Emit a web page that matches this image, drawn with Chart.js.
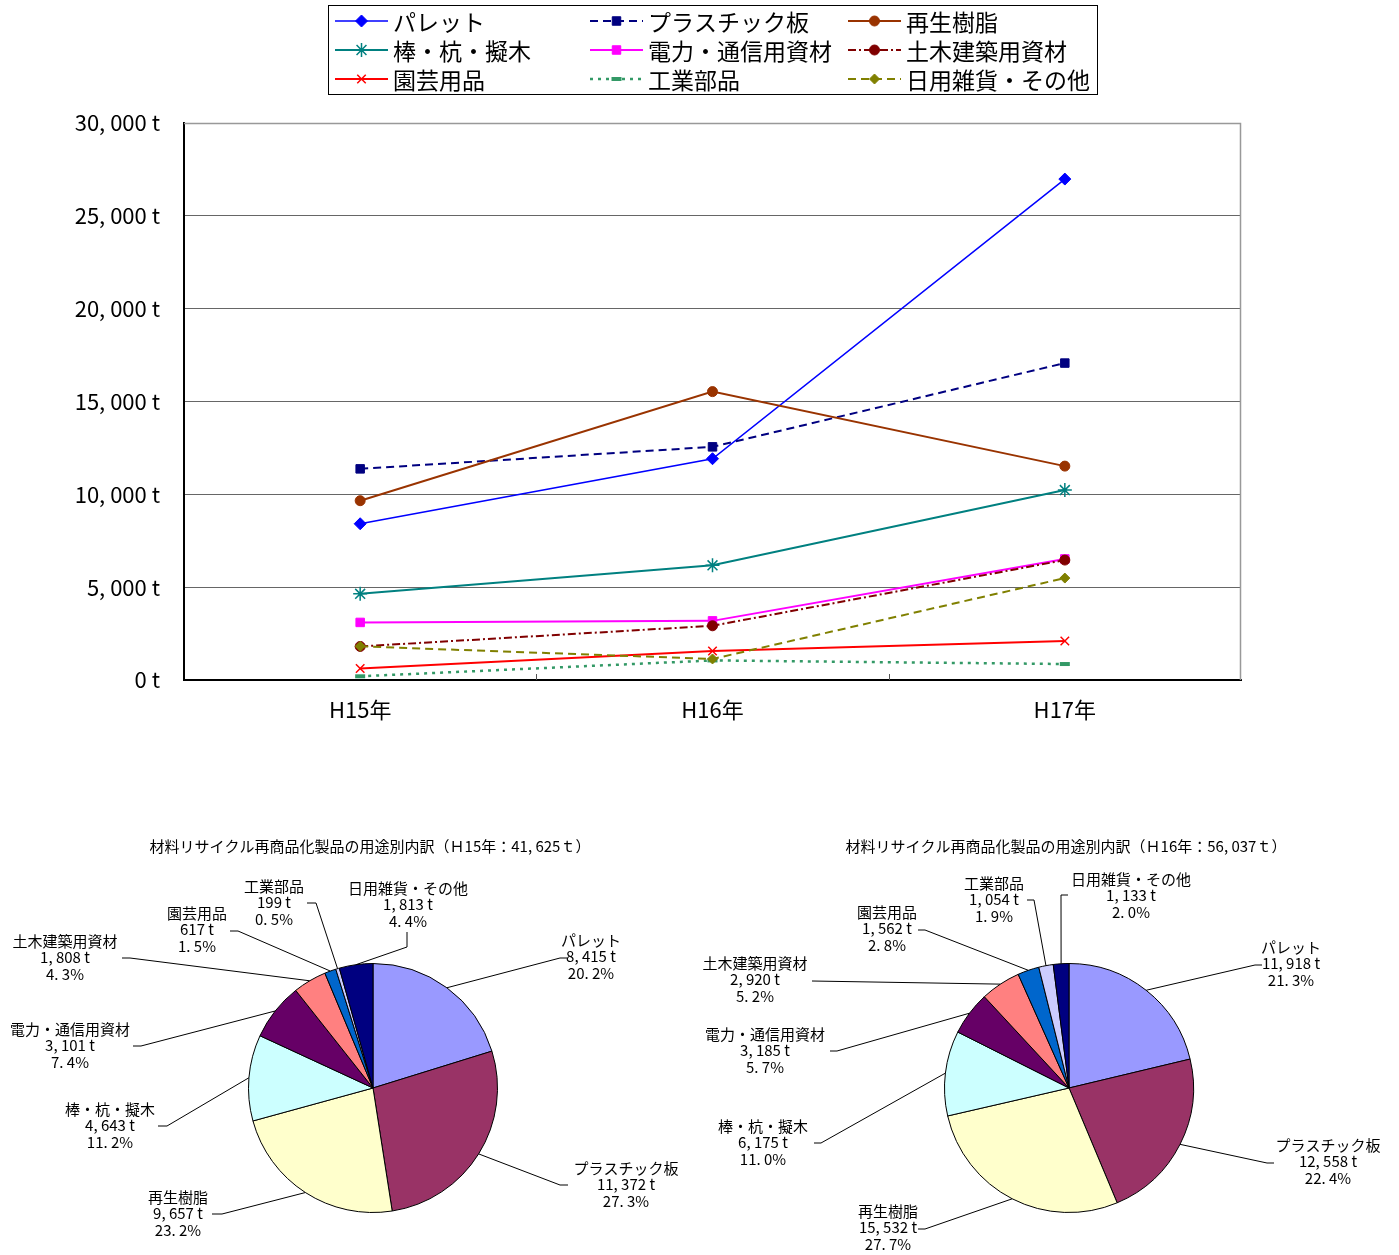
<!DOCTYPE html>
<html lang="ja">
<head>
<meta charset="utf-8">
<title>材料リサイクル再商品化製品の用途別推移</title>
<script src="https://cdn.jsdelivr.net/npm/chart.js@4.4.1/dist/chart.umd.min.js"></script>
<style>
html, body { margin: 0; padding: 0; background: #fff; }
#wrap { position: relative; width: 1399px; height: 1255px; overflow: hidden; background: #fff; }
canvas { position: absolute; }
#lineChart { left: 0; top: 0; }
#pie15 { left: 0; top: 830px; }
#pie16 { left: 699px; top: 830px; }
</style>
</head>
<body>
<div id="wrap">
  <canvas id="lineChart" width="1399" height="760"></canvas>
  <canvas id="pie15" width="700" height="425"></canvas>
  <canvas id="pie16" width="700" height="425"></canvas>
</div>
<script>
// ---- data (tonnes) ----
const years = ['H15年', 'H16年', 'H17年'];
const usageNames = ['パレット', 'プラスチック板', '再生樹脂', '棒・杭・擬木', '電力・通信用資材',
                    '土木建築用資材', '園芸用品', '工業部品', '日用雑貨・その他'];
const pallet        = [8415, 11918, 26980];
const plasticBoard  = [11372, 12558, 17070];
const recycledResin = [9657, 15532, 11520];
const stakes        = [4643, 6175, 10230];
const powerComm     = [3101, 3185, 6520];
const civilBuilding = [1808, 2920, 6460];
const gardening     = [617, 1562, 2100];
const industrial    = [199, 1054, 860];
const household     = [1813, 1133, 5490];
const yMin = 0, yMax = 30000, yStep = 5000;

const seriesValues = [pallet, plasticBoard, recycledResin, stakes, powerComm,
                      civilBuilding, gardening, industrial, household];

// ---- styles ----
const FONT = '"Noto Sans CJK JP", "Noto Sans", sans-serif';
const lineStyles = [
  { color: '#0000FF', dash: [],           width: 1.5, point: 'rectRot',  r: 6, pw: 1 },
  { color: '#000080', dash: [8, 5],       width: 2,   point: 'rect',     r: 6, pw: 1 },
  { color: '#993300', dash: [],           width: 2,   point: 'circle',   r: 5, pw: 1 },
  { color: '#008080', dash: [],           width: 2,   point: 'star',     r: 7, pw: 1.5 },
  { color: '#FF00FF', dash: [],           width: 2,   point: 'rect',     r: 6, pw: 1 },
  { color: '#800000', dash: [8, 3, 2, 3], width: 2,   point: 'circle',   r: 5, pw: 1 },
  { color: '#FF0000', dash: [],           width: 2,   point: 'crossRot', r: 6, pw: 1.5 },
  { color: '#339966', dash: [3, 5],       width: 2.5, point: 'line',     r: 5, pw: 4 },
  { color: '#808000', dash: [8, 5],       width: 2,   point: 'rectRot',  r: 5, pw: 1 }
];
const sliceColors = ['#9999FF', '#993366', '#FFFFCC', '#CCFFFF', '#660066',
                     '#FF8080', '#0066CC', '#CCCCFF', '#000080'];

function fmtTon(v) { return v.toLocaleString('en-US').replace(/,/g, ', ') + ' t'; }
function fmtPct(v) { return v.toFixed(1).replace('.', '. ') + '%'; }

// ---- line chart ----
const lineDatasets = seriesValues.map((vals, i) => {
  const s = lineStyles[i];
  return {
    label: usageNames[i],
    data: vals,
    borderColor: s.color,
    backgroundColor: s.color,
    borderWidth: s.width,
    borderDash: s.dash,
    pointStyle: s.point,
    pointRadius: s.r,
    pointHoverRadius: s.r,
    pointBackgroundColor: s.color,
    pointBorderColor: s.color,
    pointBorderWidth: s.pw,
    tension: 0,
    fill: false,
    order: seriesValues.length - i
  };
});

const frameLegendPlugin = {
  id: 'frameLegend',
  beforeDatasetsDraw(chart) {
    const { ctx, chartArea: a, scales: { x } } = chart;
    ctx.save();
    // light frame on the top and right of the plot area
    ctx.strokeStyle = '#999';
    ctx.lineWidth = 1.5;
    ctx.beginPath();
    ctx.moveTo(a.left, a.top + 0.5);
    ctx.lineTo(a.right - 0.5, a.top + 0.5);
    ctx.lineTo(a.right - 0.5, a.bottom);
    ctx.stroke();
    // short category separators rising from the x axis
    ctx.strokeStyle = '#555';
    ctx.lineWidth = 1;
    for (let i = 1; i < years.length; i++) {
      const px = Math.round((x.getPixelForTick(i - 1) + x.getPixelForTick(i)) / 2) + 0.5;
      ctx.beginPath();
      ctx.moveTo(px, a.bottom);
      ctx.lineTo(px, a.bottom - 6);
      ctx.stroke();
    }
    ctx.restore();
  },
  afterDraw(chart) {
    const ctx = chart.ctx;
    ctx.save();
    ctx.strokeStyle = '#000';
    ctx.lineWidth = 1;
    ctx.strokeRect(328.5, 5.5, 769, 89);
    const colX = [335, 590, 848], rowY = [21, 50, 79], sampleLen = 53;
    chart.data.datasets.forEach((ds, i) => {
      const x0 = colX[i % 3], y = rowY[Math.floor(i / 3)];
      ctx.beginPath();
      ctx.setLineDash(ds.borderDash || []);
      ctx.strokeStyle = ds.borderColor;
      ctx.lineWidth = ds.borderWidth;
      ctx.moveTo(x0, y);
      ctx.lineTo(x0 + sampleLen, y);
      ctx.stroke();
      ctx.setLineDash([]);
      ctx.fillStyle = ds.pointBackgroundColor;
      ctx.strokeStyle = ds.pointBorderColor;
      ctx.lineWidth = ds.pointBorderWidth;
      Chart.helpers.drawPoint(ctx, {
        pointStyle: ds.pointStyle, radius: ds.pointRadius, rotation: 0, borderWidth: ds.pointBorderWidth
      }, x0 + sampleLen / 2, y);
      ctx.fillStyle = '#000';
      ctx.font = '23px ' + FONT;
      ctx.textBaseline = 'middle';
      ctx.textAlign = 'left';
      ctx.fillText(ds.label, x0 + sampleLen + 5, y + 1);
    });
    ctx.restore();
  }
};

new Chart(document.getElementById('lineChart'), {
  type: 'line',
  data: { labels: years, datasets: lineDatasets },
  options: {
    responsive: false,
    animation: false,
    events: [],
    layout: { padding: { left: 0, top: 123, right: 158, bottom: 20 } },
    plugins: { legend: { display: false }, title: { display: false }, tooltip: { enabled: false } },
    scales: {
      x: {
        type: 'category',
        offset: true,
        grid: { display: false },
        border: { display: true, color: '#000', width: 2 },
        ticks: { color: '#000', font: { family: FONT, size: 22 }, padding: 8 },
        afterFit(scale) { scale.height = 60; }
      },
      y: {
        min: yMin,
        max: yMax,
        grid: { color: '#666', lineWidth: 1, drawTicks: false },
        border: { display: true, color: '#000', width: 2 },
        ticks: {
          stepSize: yStep,
          color: '#000',
          font: { family: FONT, size: 22 },
          padding: 24,
          callback: v => fmtTon(v)
        },
        afterFit(scale) { scale.width = 184; }
      }
    }
  },
  plugins: [frameLegendPlugin]
});

// ---- pie charts ----
// label block centre (tx, ty of first line), leader elbow (ex, ey) and end (sx, sy), page coordinates
const pieLayout15 = [
  { tx: 591, ty: 940,  ex: 560, ey: 958,  sx: 567, sy: 958 },
  { tx: 626, ty: 1168, ex: 560, ey: 1185, sx: 568, sy: 1185 },
  { tx: 178, ty: 1197, ex: 222, ey: 1214, sx: 212, sy: 1214 },
  { tx: 110, ty: 1109, ex: 167, ey: 1126, sx: 158, sy: 1126 },
  { tx: 70,  ty: 1029, ex: 141, ey: 1046, sx: 133, sy: 1046 },
  { tx: 65,  ty: 941,  ex: 130, ey: 958,  sx: 122, sy: 958 },
  { tx: 197, ty: 913,  ex: 238, ey: 931,  sx: 230, sy: 931 },
  { tx: 274, ty: 886,  ex: 316, ey: 903,  sx: 307, sy: 903 },
  { tx: 408, ty: 888,  ex: 407, ey: 947,  sx: 407, sy: 932 }
];
const pieLayout16 = [
  { tx: 1291, ty: 947,  ex: 1255, ey: 965,  sx: 1262, sy: 965 },
  { tx: 1328, ty: 1145, ex: 1267, ey: 1163, sx: 1274, sy: 1163 },
  { tx: 888,  ty: 1211, ex: 925,  ey: 1229, sx: 918,  sy: 1229 },
  { tx: 763,  ty: 1126, ex: 821,  ey: 1143, sx: 814,  sy: 1143 },
  { tx: 765,  ty: 1034, ex: 837,  ey: 1051, sx: 830,  sy: 1051 },
  { tx: 755,  ty: 963,  ex: 812,  ey: 981,  sx: 812,  sy: 981 },
  { tx: 887,  ty: 912,  ex: 925,  ey: 930,  sx: 918,  sy: 930 },
  { tx: 994,  ty: 883,  ex: 1034, ey: 900,  sx: 1027, sy: 900 },
  { tx: 1131, ty: 879,  ex: 1061, ey: 895,  sx: 1068, sy: 895 }
];

function makePie(canvasId, yearIndex, yearText, layout, ox, oy, titleX, pad) {
  const values = seriesValues.map(s => s[yearIndex]);
  const labelPlugin = {
    id: 'pieLabels',
    afterDraw(chart) {
      const ctx = chart.ctx;
      const vals = chart.data.datasets[0].data;
      const total = vals.reduce((a, b) => a + b, 0);
      ctx.save();
      ctx.fillStyle = '#000';
      ctx.textAlign = 'center';
      ctx.textBaseline = 'middle';
      ctx.font = '15px ' + FONT;
      ctx.fillText('材料リサイクル再商品化製品の用途別内訳（Ｈ' + yearText + '年：' +
                   total.toLocaleString('en-US').replace(/,/g, ', ') + 'ｔ）', titleX - ox, 846 - oy);
      ctx.strokeStyle = '#000';
      ctx.lineWidth = 1;
      chart.getDatasetMeta(0).data.forEach((arc, i) => {
        const p = arc.getProps(['x', 'y', 'startAngle', 'endAngle', 'outerRadius'], true);
        const mid = (p.startAngle + p.endAngle) / 2;
        const x0 = p.x + p.outerRadius * Math.cos(mid);
        const y0 = p.y + p.outerRadius * Math.sin(mid);
        const L = layout[i];
        ctx.beginPath();
        ctx.moveTo(x0, y0);
        ctx.lineTo(L.ex - ox, L.ey - oy);
        ctx.lineTo(L.sx - ox, L.sy - oy);
        ctx.stroke();
        const lines = [chart.data.labels[i], fmtTon(vals[i]), fmtPct(vals[i] / total * 100)];
        lines.forEach((t, k) => ctx.fillText(t, L.tx - ox, L.ty - oy + k * 16.5));
      });
      ctx.restore();
    }
  };
  new Chart(document.getElementById(canvasId), {
    type: 'pie',
    data: {
      labels: usageNames,
      datasets: [{ data: values, backgroundColor: sliceColors, borderColor: '#000', borderWidth: 1 }]
    },
    options: {
      responsive: false,
      animation: false,
      events: [],
      layout: { padding: pad },
      plugins: { legend: { display: false }, title: { display: false }, tooltip: { enabled: false } }
    },
    plugins: [labelPlugin]
  });
}

makePie('pie15', 0, '15', pieLayout15, 0, 830, 370, { left: 248, right: 202, top: 133, bottom: 42 });
makePie('pie16', 1, '16', pieLayout16, 699, 830, 1066, { left: 245, right: 205, top: 133, bottom: 42 });
</script>
</body>
</html>
